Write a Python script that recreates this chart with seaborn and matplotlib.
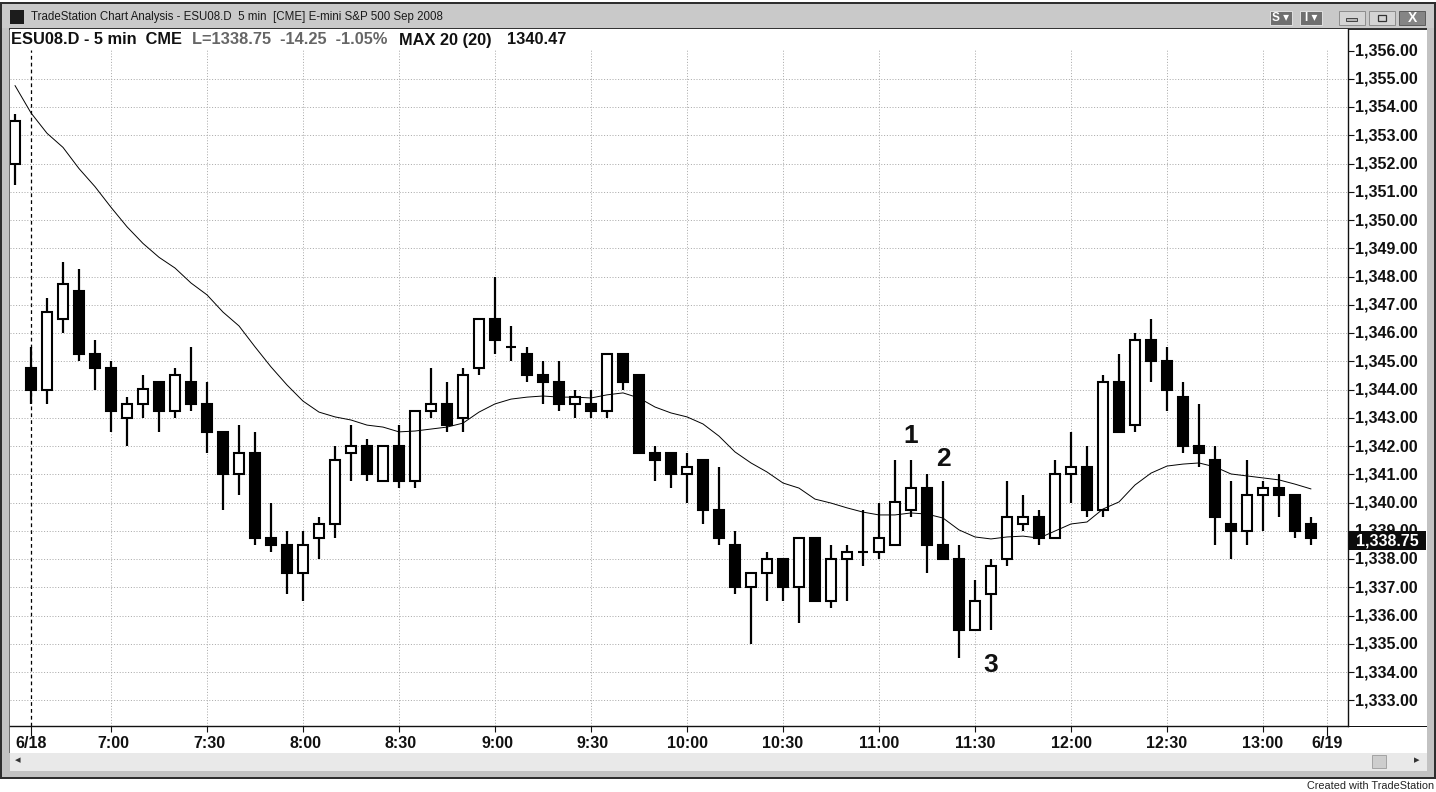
import matplotlib
matplotlib.use('Agg')
import matplotlib.pyplot as plt
from matplotlib.patches import Rectangle
from matplotlib.transforms import ScaledTranslation
import numpy as np
import pandas as pd
import seaborn as sns

opens = [1352, 1344.75, 1344, 1346.5, 1347.5, 1345.25, 1344.75, 1343, 1343.5, 1344.25,
         1343.25, 1344.25, 1343.5, 1342.5, 1341, 1341.75, 1338.75, 1338.5, 1337.5, 1338.75,
         1339.25, 1341.75, 1342, 1340.75, 1342, 1340.75, 1343.25, 1343.5, 1343, 1344.75,
         1346.5, 1345.5, 1345.25, 1344.5, 1344.25, 1343.5, 1343.5, 1343.25, 1345.25, 1344.5,
         1341.75, 1341.75, 1341, 1341.5, 1339.75, 1338.5, 1337, 1337.5, 1338, 1337,
         1338.75, 1336.5, 1338, 1338.25, 1338.25, 1338.5, 1339.75, 1340.5, 1338.5, 1338,
         1335.5, 1336.75, 1338, 1339.25, 1339.5, 1338.75, 1341, 1341.25, 1339.75, 1344.25,
         1342.75, 1345.75, 1345, 1343.75, 1342, 1341.5, 1339.25, 1339, 1340.25, 1340.5,
         1340.25, 1339.25]
highs = [1353.75, 1345.5, 1347.25, 1348.5, 1348.25, 1345.75, 1345, 1343.75, 1344.5, 1344.25,
         1344.75, 1345.5, 1344.25, 1342.5, 1342.75, 1342.5, 1340, 1339, 1339, 1339.5,
         1342, 1342.75, 1342.25, 1342, 1342.75, 1343.25, 1344.75, 1344.25, 1344.75, 1346.5,
         1348, 1346.25, 1345.5, 1345, 1345, 1344, 1344, 1345.25, 1345.25, 1344.5,
         1342, 1341.75, 1341.75, 1341.5, 1341.25, 1339, 1337.5, 1338.25, 1338, 1338.75,
         1338.75, 1338.5, 1338.5, 1339.75, 1340, 1341.5, 1341.5, 1341, 1340.75, 1338.5,
         1337.25, 1338, 1340.75, 1340.25, 1339.75, 1341.5, 1342.5, 1342, 1344.5, 1345.25,
         1346, 1346.5, 1345.5, 1344.25, 1343.5, 1342, 1340.75, 1341.5, 1340.75, 1341,
         1340.25, 1339.5]
lows = [1351.25, 1343.5, 1343.5, 1346, 1345, 1344, 1342.5, 1342, 1343, 1342.5,
        1343, 1343.25, 1341.75, 1339.75, 1340.25, 1338.5, 1338.25, 1336.75, 1336.5, 1338,
        1338.75, 1340.75, 1340.75, 1340.75, 1340.5, 1340.5, 1343, 1342.5, 1342.5, 1344.5,
        1345.25, 1345, 1344.25, 1343.5, 1343.25, 1343, 1343, 1343, 1344, 1341.75,
        1340.75, 1340.5, 1340, 1339.25, 1338.5, 1336.75, 1335, 1336.5, 1336.5, 1335.75,
        1336.5, 1336.25, 1336.5, 1337.75, 1338, 1338.5, 1339.5, 1337.5, 1338, 1334.5,
        1335.5, 1335.5, 1337.75, 1339, 1338.5, 1338.75, 1340, 1339.5, 1339.5, 1342.5,
        1342.5, 1344.25, 1343.25, 1341.75, 1341.25, 1338.5, 1338, 1338.5, 1339, 1339.5,
        1338.75, 1338.5]
closes = [1353.5, 1344, 1346.75, 1347.75, 1345.25, 1344.75, 1343.25, 1343.5, 1344, 1343.25,
          1344.5, 1343.5, 1342.5, 1341, 1341.75, 1338.75, 1338.5, 1337.5, 1338.5, 1339.25,
          1341.5, 1342, 1341, 1342, 1340.75, 1343.25, 1343.5, 1342.75, 1344.5, 1346.5,
          1345.75, 1345.5, 1344.5, 1344.25, 1343.5, 1343.75, 1343.25, 1345.25, 1344.25, 1341.75,
          1341.5, 1341, 1341.25, 1339.75, 1338.75, 1337, 1337.5, 1338, 1337, 1338.75,
          1336.5, 1338, 1338.25, 1338.25, 1338.75, 1340, 1340.5, 1338.5, 1338, 1335.5,
          1336.5, 1337.75, 1339.5, 1339.5, 1338.75, 1341, 1341.25, 1339.75, 1344.25, 1342.5,
          1345.75, 1345, 1344, 1342, 1341.75, 1339.5, 1339, 1340.25, 1340.5, 1340.25,
          1339, 1338.75]
ma_values = [1354.76, 1353.79, 1353.07, 1352.57, 1351.82, 1351.18, 1350.45, 1349.76, 1349.17, 1348.68,
             1348.30, 1347.77, 1347.35, 1346.74, 1346.25, 1345.51, 1344.80, 1344.16, 1343.59, 1343.20,
             1343.03, 1342.92, 1342.74, 1342.67, 1342.50, 1342.53, 1342.60, 1342.67, 1342.81, 1343.20,
             1343.49, 1343.66, 1343.73, 1343.77, 1343.73, 1343.73, 1343.70, 1343.81, 1343.88, 1343.70,
             1343.38, 1343.17, 1343.03, 1342.78, 1342.35, 1341.79, 1341.40, 1341.08, 1340.69, 1340.51,
             1340.12, 1339.98, 1339.81, 1339.66, 1339.56, 1339.56, 1339.63, 1339.59, 1339.45, 1339.03,
             1338.78, 1338.71, 1338.78, 1338.81, 1338.74, 1338.99, 1339.24, 1339.31, 1339.77, 1340.02,
             1340.62, 1341.04, 1341.29, 1341.36, 1341.40, 1341.26, 1341.01, 1340.94, 1340.87, 1340.80,
             1340.65, 1340.48]

time_ticks = [1, 6, 12, 18, 24, 30, 36, 42, 48, 54, 60, 66, 72, 78, 82]
time_labels = ['6/18', '7:00', '7:30', '8:00', '8:30', '9:00', '9:30', '10:00', '10:30',
               '11:00', '11:30', '12:00', '12:30', '13:00', '6/19']
price_ticks = list(range(1333, 1357))

W, H = 1436, 792
sns.set_style('white')
plt.rcParams['font.family'] = ['Liberation Sans', 'DejaVu Sans']

df = pd.DataFrame({'bar': np.arange(len(closes)), 'open': opens, 'high': highs,
                   'low': lows, 'close': closes, 'ma': ma_values})

fig = plt.figure(figsize=(W / 100, H / 100), dpi=100, facecolor='white')
ax = fig.add_axes([10 / W, 1 - 726 / H, 1338 / W, 697 / H])


def box(x0, y0, x1, y1, color, z=-5, **kw):
    # window chrome, in pixels from the top left
    p = Rectangle((x0 / W, 1 - y1 / H), (x1 - x0) / W, (y1 - y0) / H, transform=fig.transFigure,
                  facecolor=color, edgecolor=kw.pop('ec', 'none'), lw=kw.pop('lw', 0), zorder=z, **kw)
    fig.add_artist(p)


def label(x, y, s, z=6, **kw):
    kw.setdefault('va', 'center')
    fig.text(x / W, 1 - y / H, s, zorder=z, **kw)


# window frame
box(0, 2, W, 779, '#2e2e2e')
box(2, 4, W - 2, 777, '#c2c2c2')
box(2, 4, W - 2, 28, '#c9c9c9')
box(9, 28, 1427, 753, 'white', z=-4)
box(10, 753, 1427, 771, '#e9e9e9', z=-4)
box(9, 28, 10, 753, '#6e6e6e', z=-3)
box(9, 28, 1427, 29.5, '#333333', z=-3)
box(1348, 725.5, 1427, 726.5, '#111111', z=-3)
box(1372, 755, 1386, 768, '#cdcdcd', z=-3, ec='#9a9a9a', lw=0.6)
label(18, 760.5, '\u25c2', color='#333333', fontsize=8, family='DejaVu Sans', ha='center')
label(1417, 760.5, '\u25b8', color='#333333', fontsize=8, family='DejaVu Sans', ha='center')

# title bar
box(10, 10, 24, 24, '#1c1c1c')
label(31, 17, 'TradeStation Chart Analysis - ESU08.D  5 min  [CME] E-mini S&P 500 Sep 2008',
      color='#1a1a1a', fontsize=8.3)
for x0, x1, s in [(1270, 1292, 'S \u25be'), (1300, 1322, 'I \u25be')]:
    box(x0, 11, x1, 25, '#6f6f6f', z=-3, ec='#e0e0e0', lw=0.7)
    label((x0 + x1) / 2, 18, s, color='white', fontsize=8.5, fontweight='bold', ha='center',
          family=['Liberation Sans', 'DejaVu Sans'])
box(1339, 11, 1365, 25, '#d4d4d4', z=-3, ec='#8c8c8c', lw=0.7)
box(1369, 11, 1395, 25, '#d4d4d4', z=-3, ec='#8c8c8c', lw=0.7)
box(1399, 11, 1425, 25, '#858585', z=-3, ec='#5c5c5c', lw=0.7)
box(1346, 18, 1357, 21, '#b5b5b5', z=-2, ec='#444444', lw=0.7)
box(1378, 15, 1386, 21, '#d4d4d4', z=-2, ec='#333333', lw=0.9)
label(1412, 18, 'X', color='white', fontsize=10, fontweight='bold', ha='center')

# chart header
label(11, 40, 'ESU08.D - 5 min  CME', color='#111111', fontsize=11.8, fontweight='bold')
label(192, 40, 'L=1338.75  -14.25  -1.05%', color='#666666', fontsize=11.8, fontweight='bold')
label(399, 40, 'MAX 20 (20)', color='#111111', fontsize=11.8, fontweight='bold')
label(507, 40, '1340.47', color='#111111', fontsize=11.8, fontweight='bold')

# candles
ax.vlines(df['bar'], df['low'], df['high'], color='black', lw=1.6, zorder=2)
ax.bar(df['bar'], df['close'] - df['open'], bottom=df['open'], width=0.63,
       color=np.where(df['close'] < df['open'], 'black', 'white'),
       edgecolor='black', linewidth=1.5, zorder=3)
sns.lineplot(data=df, x='bar', y='ma', color='black', linewidth=0.7, ax=ax, legend=False,
             errorbar=None, zorder=4)

ax.text(56, 1342.35, '1', fontsize=19, fontweight='bold', ha='center', va='center', color='#111111', zorder=5)
ax.text(58, 1341.55, '2', fontsize=19, fontweight='bold', ha='center', va='center', color='#111111', zorder=5)
ax.text(61, 1334.25, '3', fontsize=19, fontweight='bold', ha='center', va='center', color='#111111', zorder=5)

ax.set_xlim((10 - 15) / 16, (1348 - 15) / 16)
ylim = (1356 - (726 - 50.5) / 28.25, 1356 + (50.5 - 29) / 28.25)
ax.set_ylim(*ylim)
ax.set_xlabel('')
ax.set_ylabel('')
ax.set_facecolor('white')

ax.set_xticks(time_ticks, time_labels, fontsize=11.5, fontweight='bold', color='#111111')
ax.yaxis.tick_right()
ax.set_yticks(price_ticks, [f'{p:,.2f}' for p in price_ticks], fontsize=11.5, fontweight='bold', color='#111111')
ax.tick_params(axis='x', bottom=True, length=4, width=0.8, color='#111111', pad=3.5)
ax.tick_params(axis='y', right=True, length=4, width=0.8, color='#111111', pad=1.3)

ax.set_axisbelow(True)
ax.grid(True, color='#aaaaaa', linestyle=(0, (1, 1.8)), linewidth=0.72)
ax.get_xgridlines()[0].set(color='black', linestyle=(0, (3, 2.5)), linewidth=0.9)

# vertical grid stops at the top price, no horizontal line there
top_frac = (1356 - ylim[0]) / (ylim[1] - ylim[0])
for gl in ax.get_xgridlines():
    gl.set_ydata([0, top_frac])
ax.get_ygridlines()[-1].set_visible(False)

# date ticks run down into their labels
major = ax.xaxis.get_major_ticks()
major[0].tick1line.set_markersize(7)
major[-1].tick1line.set_markersize(7)

up_1px = ScaledTranslation(0, 1 / 100, fig.dpi_scale_trans)
for t in ax.get_yticklabels():
    t.set_verticalalignment('center_baseline')
    t.set_transform(t.get_transform() + up_1px)
# short time labels sit a bit right of their tick
for t in ax.get_xticklabels():
    if len(t.get_text()) == 4 and ':' in t.get_text():
        t.set_transform(t.get_transform() + ScaledTranslation(2 / 100, 0, fig.dpi_scale_trans))

for s in ['top', 'left']:
    ax.spines[s].set_visible(False)
for s in ['right', 'bottom']:
    ax.spines[s].set_color('#111111')
    ax.spines[s].set_linewidth(1.0)

# last price marker over the axis
box(1348, 531, 1426, 550, '#0c0c0c', z=5)
label(1356, 540.5, '1,338.75', color='white', fontsize=11.5, fontweight='bold')

label(1434, 786, 'Created with TradeStation', color='#222222', fontsize=7.8, ha='right')

fig.savefig('out.png', dpi=100)
